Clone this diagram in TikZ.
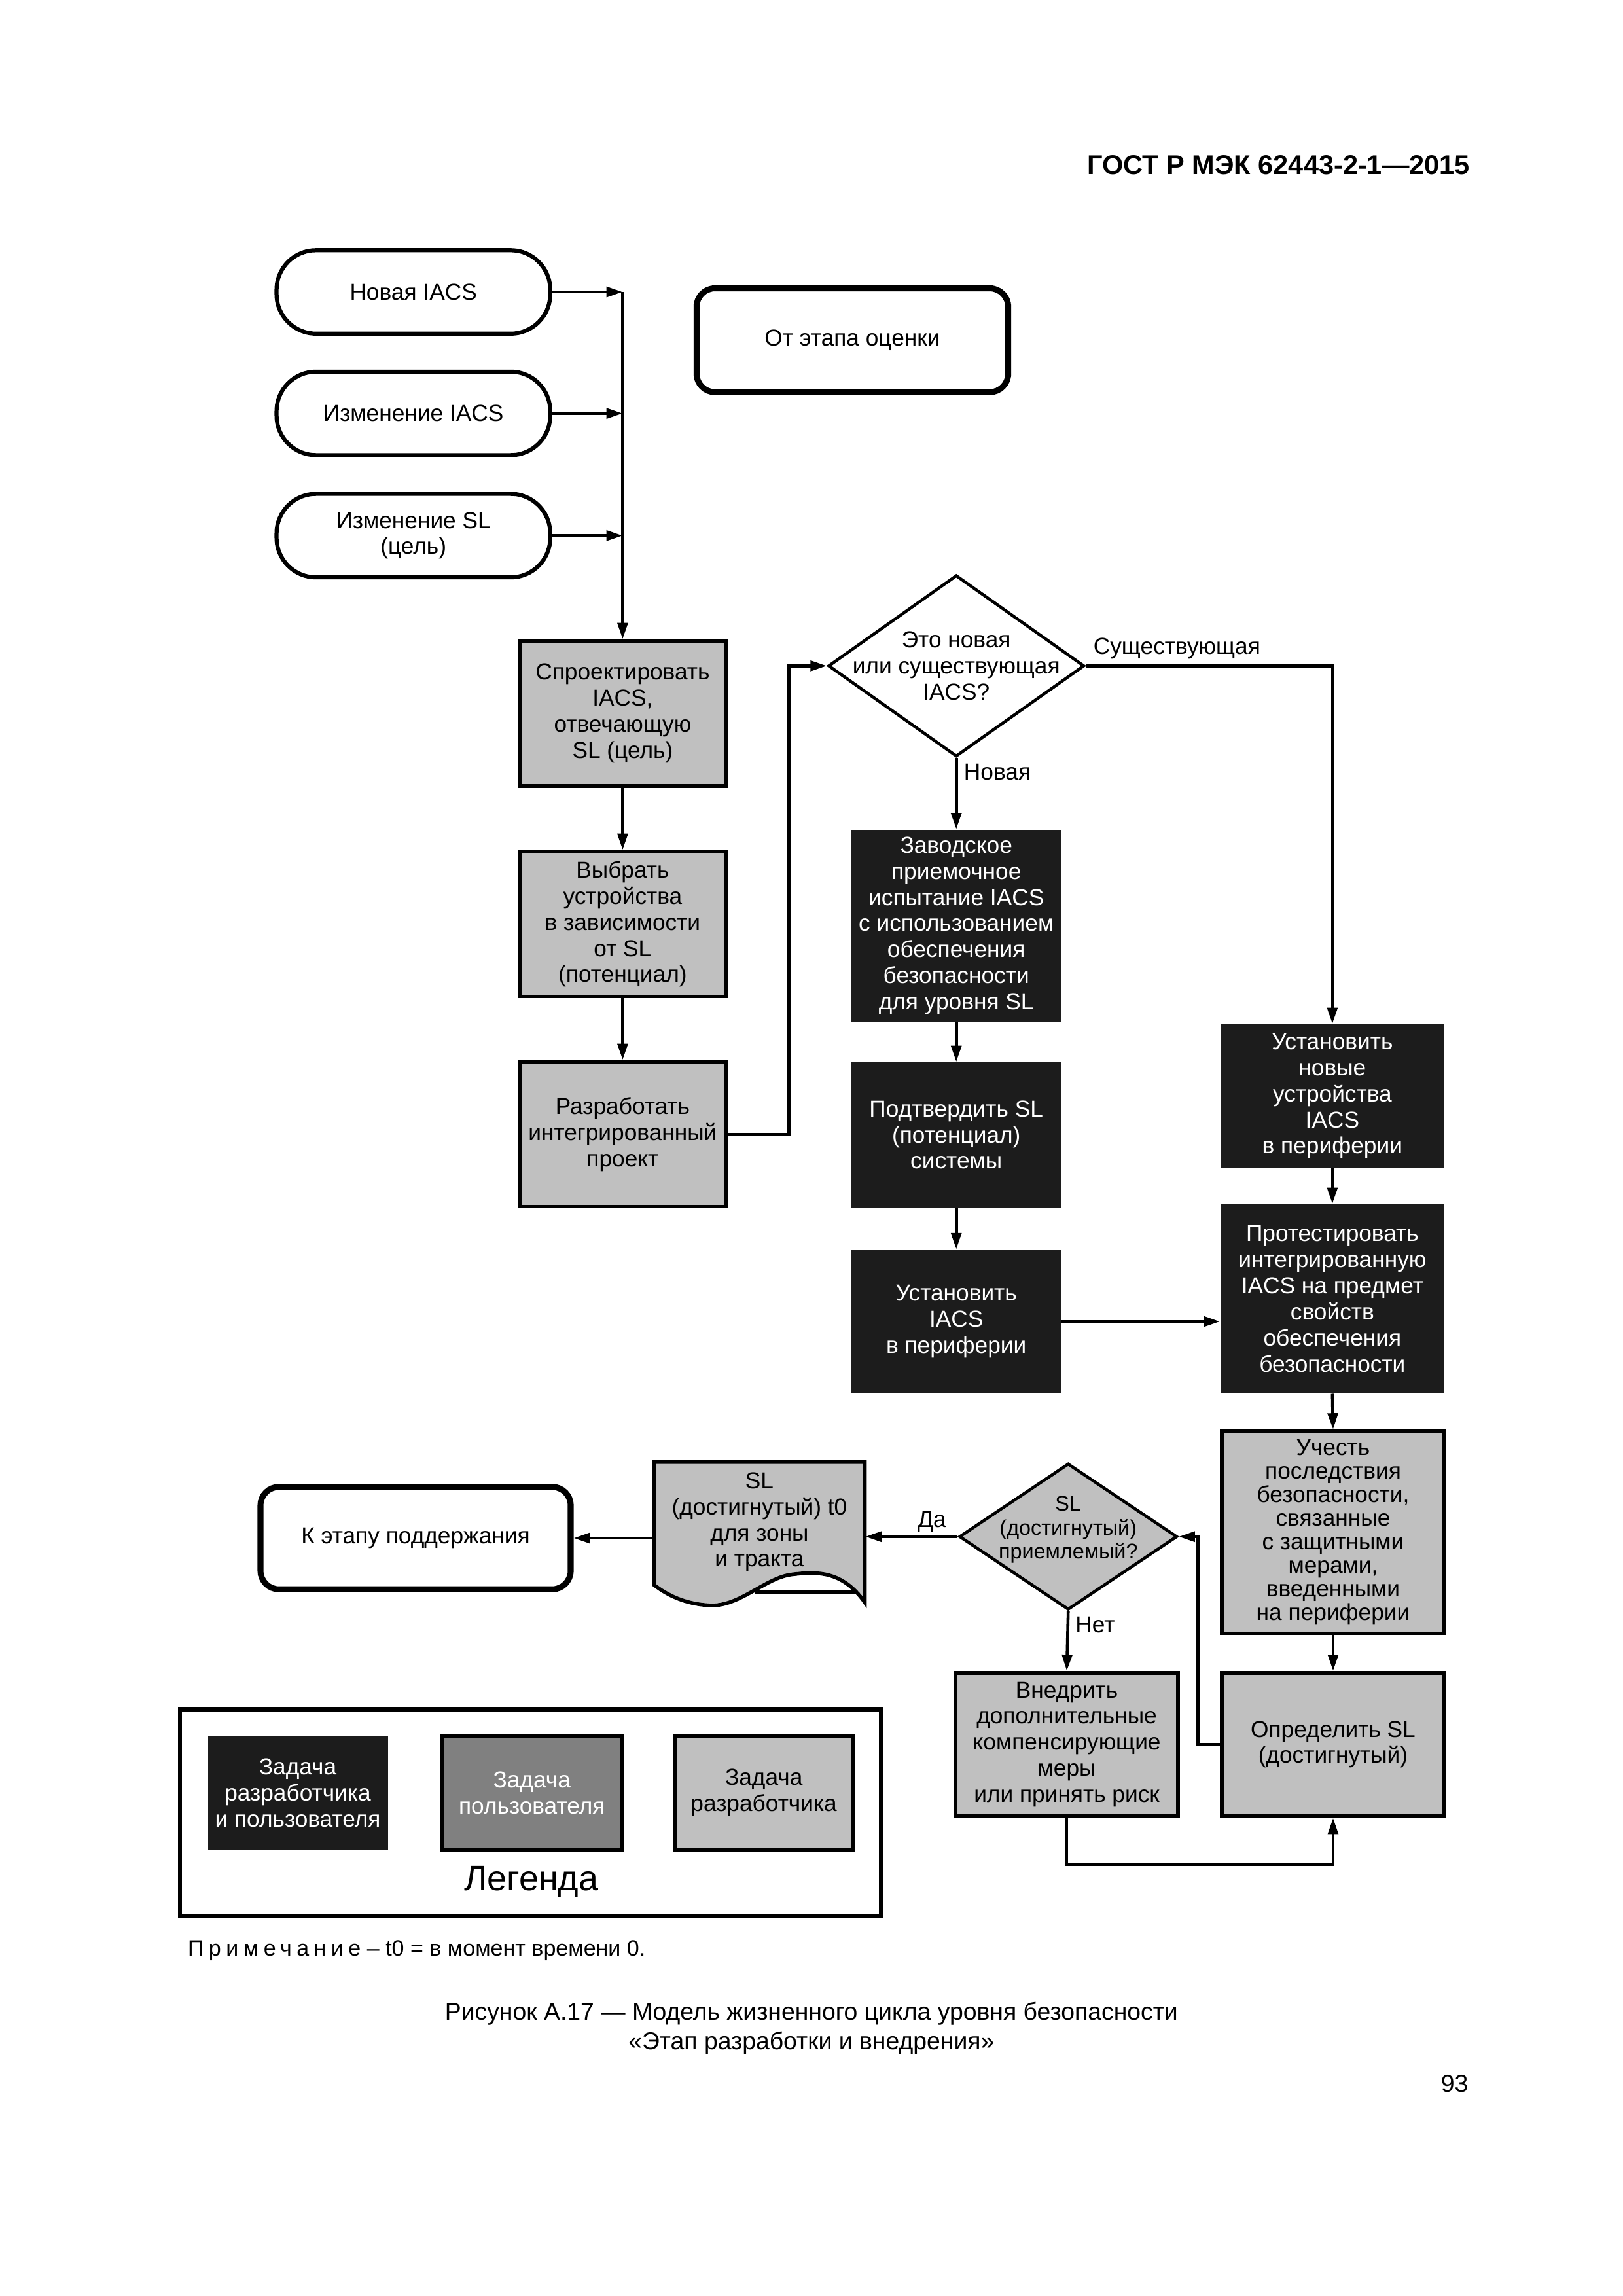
\documentclass[tikz,border=0pt]{standalone}
\usepackage{fontspec}
\setmainfont{Liberation Sans}
\usetikzlibrary{arrows.meta, shapes.geometric, positioning}
\definecolor{devgrey}{HTML}{C0C0C0}
\definecolor{jointblack}{HTML}{1C1C1C}
\definecolor{usergrey}{HTML}{808080}
\newlength{\pxu}
\setlength{\pxu}{0.189343mm}
\tikzset{
  base/.style={font=\fontsize{8.5}{9.6}\selectfont, align=center, inner sep=0pt},
  startpill/.style={base, draw, line width=1.5pt, rounded corners=5.1mm, fill=white,
    minimum width=187*\pxu, minimum height=57*\pxu},
  termbox/.style={base, draw, line width=2.2pt, rounded corners=2.4mm, fill=white},
  devtask/.style={base, draw, line width=1.35pt, fill=devgrey,
    minimum width=141*\pxu, minimum height=99*\pxu},
  jointtask/.style={base, fill=jointblack, text=white, minimum width=143*\pxu},
  usertask/.style={base, draw, line width=1.35pt, fill=usergrey, text=white},
  decision/.style={diamond, draw, line width=1.1pt, inner sep=0pt, fill=white},
  flow/.style={-{Triangle[length=2.1mm, width=1.3mm]}, line width=1.1pt},
  tag/.style={font=\fontsize{8.5}{9.6}\selectfont, inner sep=0pt}
}
\begin{document}
\begin{tikzpicture}[x=0.189343mm, y=-0.189343mm]
\useasboundingbox (0,0) rectangle (1109.1,1568.9);

% page header
\node[anchor=east, font=\bfseries\fontsize{10}{12}\selectfont] (header) at (1011,113) {ГОСТ Р МЭК 62443-2-1—2015};

% start events
\node[startpill] (newiacs) at (282.5,199.5) {Новая IACS};
\node[startpill] (chgiacs) at (282.5,282.5) {Изменение IACS};
\node[startpill] (chgsl) at (282.5,366) {Изменение SL\\(цель)};
\node[termbox, minimum width=213*\pxu, minimum height=71*\pxu] (fromassess) at (582.5,232.5) {От этапа оценки};

% developer column
\node[devtask] (design) at (425.5,487.5) {Спроектировать\\IACS,\\отвечающую\\SL (цель)};
\node[devtask] (select) at (425.5,631.5) {Выбрать\\устройства\\в зависимости\\от SL\\(потенциал)};
\node[devtask] (develop) at (425.5,775) {Разработать\\интегрированный\\проект};

% new or existing
\node[decision, minimum width=175*\pxu, minimum height=124*\pxu,
  label={[base]center:{Это новая\\или существующая\\IACS?}}] (newold) at (653.5,455) {};

\node[jointtask, minimum height=131*\pxu] (factory) at (653.5,632.5) {Заводское\\приемочное\\испытание IACS\\с использованием\\обеспечения\\безопасности\\для уровня SL};
\node[jointtask, minimum height=99*\pxu] (confirm) at (653.5,775.5) {Подтвердить SL\\(потенциал)\\системы};
\node[jointtask, minimum height=98*\pxu] (install) at (653.5,903) {Установить\\IACS\\в периферии};
\node[jointtask, minimum width=153*\pxu, minimum height=98*\pxu] (newdev) at (910.5,749) {Установить\\новые\\устройства\\IACS\\в периферии};
\node[jointtask, minimum width=153*\pxu, minimum height=129*\pxu] (test) at (910.5,887.5) {Протестировать\\интегрированную\\IACS на предмет\\свойств\\обеспечения\\безопасности};

% achieved SL loop
\node[devtask, minimum width=152*\pxu, minimum height=138*\pxu, font=\fontsize{8.5}{8.7}\selectfont] (account) at (911,1047) {Учесть\\последствия\\безопасности,\\связанные\\с защитными\\мерами,\\введенными\\на периферии};
\node[devtask, minimum width=152*\pxu, minimum height=98*\pxu] (determine) at (911,1192) {Определить SL\\(достигнутый)};
\node[devtask, minimum width=152*\pxu, minimum height=98*\pxu] (implement) at (729,1192) {Внедрить\\дополнительные\\компенсирующие\\меры\\или принять риск};
\node[decision, fill=devgrey, minimum width=149*\pxu, minimum height=100*\pxu,
  label={[base, font=\fontsize{7.8}{8.7}\selectfont, yshift=0.9mm]center:{SL\\(достигнутый)\\приемлемый?}}] (accept) at (730,1050) {};

% document
\filldraw[line width=1.35pt, fill=devgrey] (447,999) -- (591,999) -- (591,1095)
  .. controls (575,1072) and (556,1074) .. (540,1076)
  .. controls (522,1079) and (505,1098) .. (485,1097)
  .. controls (468,1096) and (456,1090) .. (447,1083) -- cycle;
\draw[line width=1.35pt] (516,1088) -- (585,1088);
\node[base, minimum width=144*\pxu, minimum height=82*\pxu] (result) at (519,1040) {SL\\(достигнутый) t0\\для зоны\\и тракта};
\node[termbox, minimum width=212*\pxu, minimum height=70*\pxu] (tomaint) at (284,1051) {К этапу поддержания};

% connectors
\draw[flow] (newiacs.east) -- (newiacs.east -| design.north);
\draw[flow] (chgiacs.east) -- (chgiacs.east -| design.north);
\draw[flow] (chgsl.east) -- (chgsl.east -| design.north);
\draw[flow] (newiacs.east -| design.north) -- (design.north);
\draw[flow] (design.south) -- (select.north);
\draw[flow] (select.south) -- (develop.north);
\draw[flow] (develop.east) -- ++(42,0) |- (newold.west);
\draw[flow] (newold.east) -| node[tag, pos=0, anchor=south west, xshift=0.8mm, yshift=0.7mm] {Существующая} (newdev.north);
\draw[flow] (newold.south) -- node[tag, pos=0.2, anchor=west, xshift=0.8mm] {Новая} (factory.north);
\draw[flow] (factory.south) -- (confirm.north);
\draw[flow] (confirm.south) -- (install.north);
\draw[flow] (install.east) -- (install.east -| test.west);
\draw[flow] (newdev.south) -- (test.north);
\draw[flow] (test.south) -- (account.north);
\draw[flow] (account.south) -- (determine.north);
\draw[flow] (determine.west) -- ++(-15,0) |- (accept.east);
\draw[flow] (accept.south) -- node[tag, pos=0.23, anchor=west, xshift=0.8mm] {Нет} (implement.north);
\draw[flow] (implement.south) -- ++(0,32) -| (determine.south);
\draw[flow] (accept.west) -- node[tag, pos=0.28, anchor=south, yshift=0.4mm] {Да} (accept.west -| result.east);
\draw[flow] (tomaint.east -| result.west) -- (tomaint.east);

% legend
\node[draw, line width=1.6pt, minimum width=479*\pxu, minimum height=141*\pxu] (legend) at (362.5,1238.5) {};
\node[jointtask, minimum width=123*\pxu, minimum height=78*\pxu] (keyjoint) at (203.5,1225) {Задача\\разработчика\\и пользователя};
\node[usertask, minimum width=123*\pxu, minimum height=78*\pxu] (keyuser) at (363.5,1225) {Задача\\пользователя};
\node[devtask, minimum width=122*\pxu, minimum height=78*\pxu] (keydev) at (522,1225) {Задача\\разработчика};
\node[font=\fontsize{13}{15}\selectfont] (legendtitle) at (363,1286) {Легенда};

% note, caption, page number
\node[anchor=west, font=\fontsize{8.2}{9.6}\selectfont, inner sep=0pt] (note) at (128,1333) {{\addfontfeatures{LetterSpace=22}Примечание} – t0 = в момент времени 0.};
\node[font=\fontsize{9}{10.8}\selectfont, align=center] (caption) at (554.5,1386) {Рисунок А.17 — Модель жизненного цикла уровня безопасности\\«Этап разработки и внедрения»};
\node[font=\fontsize{9}{11}\selectfont] (pageno) at (994,1424) {93};
\end{tikzpicture}
\end{document}
